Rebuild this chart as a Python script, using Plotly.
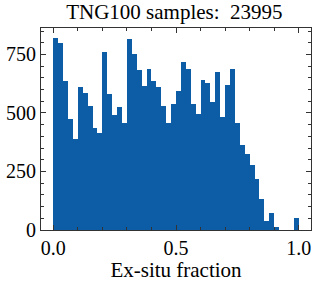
import numpy as np
import plotly.graph_objects as go

bin_edges = np.linspace(0.0, 1.0, 51)
counts = [822, 801, 635, 473, 388, 609, 584, 530, 435, 415,
          759, 580, 490, 524, 456, 818, 754, 682, 614, 686,
          635, 609, 530, 456, 537, 592, 716, 686, 537, 494,
          639, 626, 545, 673, 481, 618, 686, 456, 362, 324,
          277, 217, 132, 38, 72, 13, 0, 0, 0, 51]
title_text = "TNG100 samples:&nbsp; 23995"
x_label = "Ex-situ fraction"
x_tickvals = [0.0, 0.5, 1.0]
x_ticktext = ["0.0", "0.5", "1.0"]
y_tickvals = [0, 250, 500, 750]

centers = (bin_edges[:-1] + bin_edges[1:]) / 2
widths = np.diff(bin_edges)

fig = go.Figure(go.Bar(x=centers, y=counts, width=widths,
                       marker=dict(color="#0C5DA5", line=dict(width=0))))

font = "'Liberation Serif', 'DejaVu Serif', serif"
fs = 20
axis_common = dict(showgrid=False, zeroline=False, showline=True, linecolor="#333333",
                   linewidth=1, mirror="allticks", ticks="inside", ticklen=5,
                   tickcolor="#333333", tickwidth=1, automargin=False,
                   tickfont=dict(family=font, size=fs, color="black"))
fig.update_xaxes(range=[-0.05, 1.05], tickvals=x_tickvals, ticktext=x_ticktext,
                 title=dict(text=x_label, font=dict(family=font, size=fs + 1, color="black"), standoff=2),
                 minor=dict(ticks="inside", ticklen=3, tickcolor="#333333", dtick=0.1, tick0=0),
                 **axis_common)
fig.update_yaxes(range=[0, 863], tickvals=y_tickvals,
                 minor=dict(ticks="inside", ticklen=3, tickcolor="#333333", dtick=50, tick0=0),
                 **axis_common)
fig.update_layout(width=317, height=282, margin=dict(l=41, r=6, t=28, b=52),
                  plot_bgcolor="white", paper_bgcolor="white", bargap=0,
                  title=dict(text=title_text, x=0.55, xanchor="center", y=0.985, yanchor="top",
                             font=dict(family=font, size=fs + 1, color="black")),
                  showlegend=False)
fig.write_html("out.html", config={"displayModeBar": False},
               post_script="document.body.style.margin='0';")
